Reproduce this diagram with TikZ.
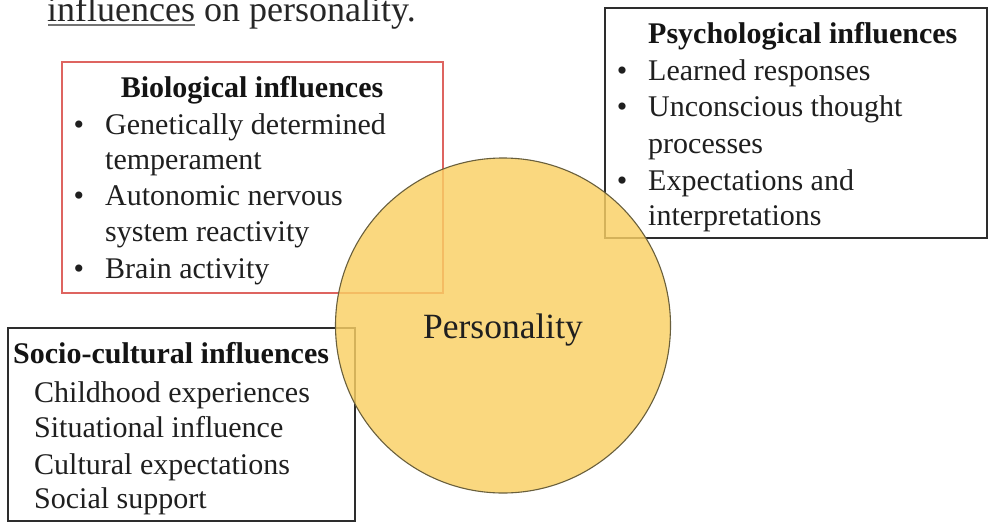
\documentclass[tikz,border=0pt]{standalone}
\usepackage{fontspec}
\setmainfont{Liberation Serif}
\begin{document}
\begin{tikzpicture}[x=1pt,y=-1pt,
  boxframe/.style={draw=#1, line width=1.6pt, fill=white},
  bodytext/.style={anchor=base west, inner sep=0pt, font=\fontsize{30}{36}\selectfont, text=black!88},
  titletext/.style={anchor=base, inner sep=0pt, font=\fontsize{30}{36}\selectfont\bfseries, text=black!92},
  bulletmark/.style={anchor=base, inner sep=0pt, font=\fontsize{30}{36}\selectfont, text=black!88}
]
\definecolor{boxred}{RGB}{222,100,96}
\definecolor{boxdark}{RGB}{45,45,45}
\definecolor{circfill}{RGB}{249,208,100}
\definecolor{circline}{RGB}{105,95,60}
\clip (0,0) rectangle (989,525);
\useasboundingbox (0,0) rectangle (989,525);
\fill[white] (0,0) rectangle (989,525);

% heading fragment
\node[anchor=base west, inner sep=0pt, font=\fontsize{36}{40}\selectfont, text=black!85] (head) at (47,21) {influences on personality.};
\draw[black!55, line width=1.4pt] (head.base west) ++(1,4) coordinate (ulA) -- ++(147,0) coordinate (ulB);

% boxes
\draw[boxframe=boxred] (62,62) rectangle (443,293);
\draw[boxframe=boxdark] (605,8) rectangle (987,238);
\draw[boxframe=boxdark] (8,328) rectangle (355,521);

% biological
\node[titletext] (bt) at (252,97) {Biological influences};
\node[bulletmark] (bb1) at (79,134) {•};
\node[bodytext] (b1) at (105,134) {Genetically determined};
\node[bodytext] (b1b) at (105,169) {temperament};
\node[bulletmark] (bb2) at (79,205) {•};
\node[bodytext] (b2) at (105,205) {Autonomic nervous};
\node[bodytext] (b2b) at (105,241) {system reactivity};
\node[bulletmark] (bb3) at (79,278) {•};
\node[bodytext] (b3) at (105,278) {Brain activity};

% psychological
\node[titletext, anchor=base west] (pt) at (648,43) {Psychological influences};
\node[bulletmark] (pb1) at (622,80) {•};
\node[bodytext] (p1) at (648,80) {Learned responses};
\node[bulletmark] (pb2) at (622,116) {•};
\node[bodytext] (p2) at (648,116) {Unconscious thought};
\node[bodytext] (p2b) at (648,153) {processes};
\node[bulletmark] (pb3) at (622,190) {•};
\node[bodytext] (p3) at (648,190) {Expectations and};
\node[bodytext] (p3b) at (648,225) {interpretations};

% socio-cultural
\node[titletext, anchor=base west] (st) at (13,363) {Socio-cultural influences};
\node[bodytext] (s1) at (34,402) {Childhood experiences};
\node[bodytext] (s2) at (34,437) {Situational influence};
\node[bodytext] (s3) at (34,474) {Cultural expectations};
\node[bodytext] (s4) at (34,508) {Social support};

% personality circle
\node[circle, minimum size=335pt, inner sep=0pt, fill=circfill, fill opacity=0.82, draw=circline, line width=1.1pt] (circ) at (503,325.5) {};
\node[anchor=base, inner sep=0pt, font=\fontsize{35.5}{40}\selectfont, text=black!88] (pers) at (503,338) {Personality};
\end{tikzpicture}
\end{document}
